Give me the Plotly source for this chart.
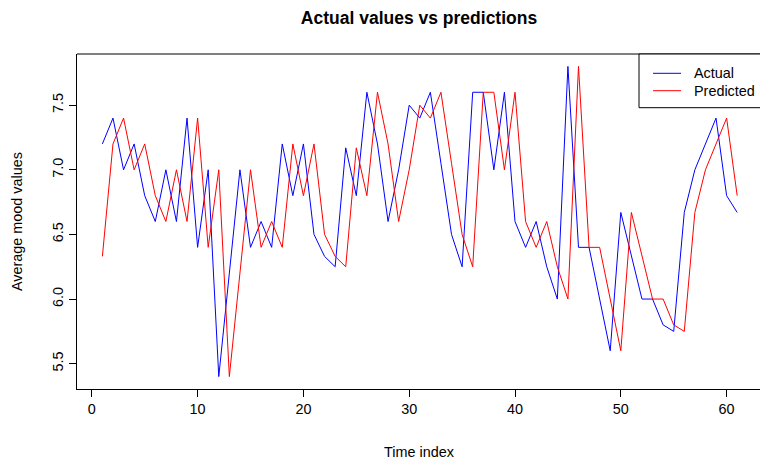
import plotly.graph_objects as go

time_index = list(range(1, 62))
actual = [7.2, 7.4, 7.0, 7.2, 6.8, 6.6, 7.0, 6.6, 7.4, 6.4,
          7.0, 5.4, 6.2, 7.0, 6.4, 6.6, 6.4, 7.2, 6.8, 7.2,
          6.5, 6.33, 6.25, 7.17, 6.8, 7.6, 7.2, 6.6, 7.0, 7.5,
          7.4, 7.6, 7.05, 6.5, 6.25, 7.6, 7.6, 7.0, 7.6, 6.6,
          6.4, 6.6, 6.25, 6.0, 7.8, 6.4, 6.4, 6.0, 5.6, 6.67,
          6.33, 6.0, 6.0, 5.8, 5.75, 6.67, 7.0, 7.2, 7.4, 6.8,
          6.67]
predicted = [6.33, 7.2, 7.4, 7.0, 7.2, 6.8, 6.6, 7.0, 6.6, 7.4,
             6.4, 7.0, 5.4, 6.2, 7.0, 6.4, 6.6, 6.4, 7.2, 6.8,
             7.2, 6.5, 6.33, 6.25, 7.17, 6.8, 7.6, 7.2, 6.6, 7.0,
             7.5, 7.4, 7.6, 7.05, 6.5, 6.25, 7.6, 7.6, 7.0, 7.6,
             6.6, 6.4, 6.6, 6.25, 6.0, 7.8, 6.4, 6.4, 6.0, 5.6,
             6.67, 6.33, 6.0, 6.0, 5.8, 5.75, 6.67, 7.0, 7.2, 7.4,
             6.8]
x_ticks = [0, 10, 20, 30, 40, 50, 60]
y_ticks = [5.5, 6.0, 6.5, 7.0, 7.5]
series_names = ["Actual", "Predicted"]
series_colors = ["#0000FF", "#FF0000"]

FONT = "Liberation Sans, Arial, sans-serif"
FS = 14.4
W, H = 762, 467
L, T, R_, B = 77, 54, 0, 78
pw = W - L - R_
ph = H - T - B

def px_x(X):
    return (X - L) / pw

def px_y(Y):
    return (H - B - Y) / ph

fig = go.Figure()
for name, vals, col in zip(series_names, [actual, predicted], series_colors):
    fig.add_trace(go.Scatter(x=time_index, y=vals, mode="lines", name=name,
                             line=dict(color=col, width=1), showlegend=False,
                             hoverinfo="skip"))

xmin = -1.4
xmax = xmin + pw / 10.58

fig.update_layout(
    width=W, height=H,
    margin=dict(l=L, r=R_, t=T, b=B),
    paper_bgcolor="white", plot_bgcolor="white",
    font=dict(family=FONT, size=FS, color="black"),
    hovermode=False,
    title=dict(text="<b>Actual values vs predictions</b>", x=px_x(419), xref="paper",
               y=1 - 18 / H, yref="container", yanchor="middle", xanchor="center",
               font=dict(size=17.5, family=FONT, color="black")),
    xaxis=dict(range=[xmin, xmax], tickvals=x_ticks, ticks="outside", ticklen=7,
               tickcolor="black", showline=True, linecolor="black", linewidth=1,
               showgrid=False, zeroline=False, tickfont=dict(size=FS)),
    yaxis=dict(range=[5.304, 7.896], tickvals=y_ticks, tickformat=".1f",
               ticks="outside", ticklen=7, tickcolor="black", tickangle=-90,
               showline=True, linecolor="black", linewidth=1,
               showgrid=False, zeroline=False, tickfont=dict(size=FS)),
)

fig.add_shape(type="line", xref="paper", yref="paper", x0=0, x1=1.05, y0=1, y1=1,
              line=dict(color="black", width=1))

fig.add_annotation(text="Time index", xref="paper", yref="paper",
                   x=px_x(419), y=px_y(452), showarrow=False,
                   xanchor="center", yanchor="middle", font=dict(size=FS))
fig.add_annotation(text="Average mood values", xref="paper", yref="paper",
                   x=px_x(17), y=px_y(222), showarrow=False, textangle=-90,
                   xanchor="center", yanchor="middle", font=dict(size=FS))

fig.add_shape(type="rect", xref="paper", yref="paper",
              x0=px_x(639), x1=1.1, y0=px_y(107.7), y1=1,
              line=dict(color="black", width=1), fillcolor="white", layer="above")
for i, (name, col) in enumerate(zip(series_names, series_colors)):
    yy = [73.3, 90.7][i]
    fig.add_shape(type="line", xref="paper", yref="paper",
                  x0=px_x(653), x1=px_x(681), y0=px_y(yy), y1=px_y(yy),
                  line=dict(color=col, width=1), layer="above")
    fig.add_annotation(text=name, xref="paper", yref="paper",
                       x=px_x(692), y=px_y(yy), showarrow=False,
                       xanchor="left", yanchor="middle", font=dict(size=FS))

fig.write_html("out.html", config={"displayModeBar": False},
               post_script="document.body.style.margin='0px';")
